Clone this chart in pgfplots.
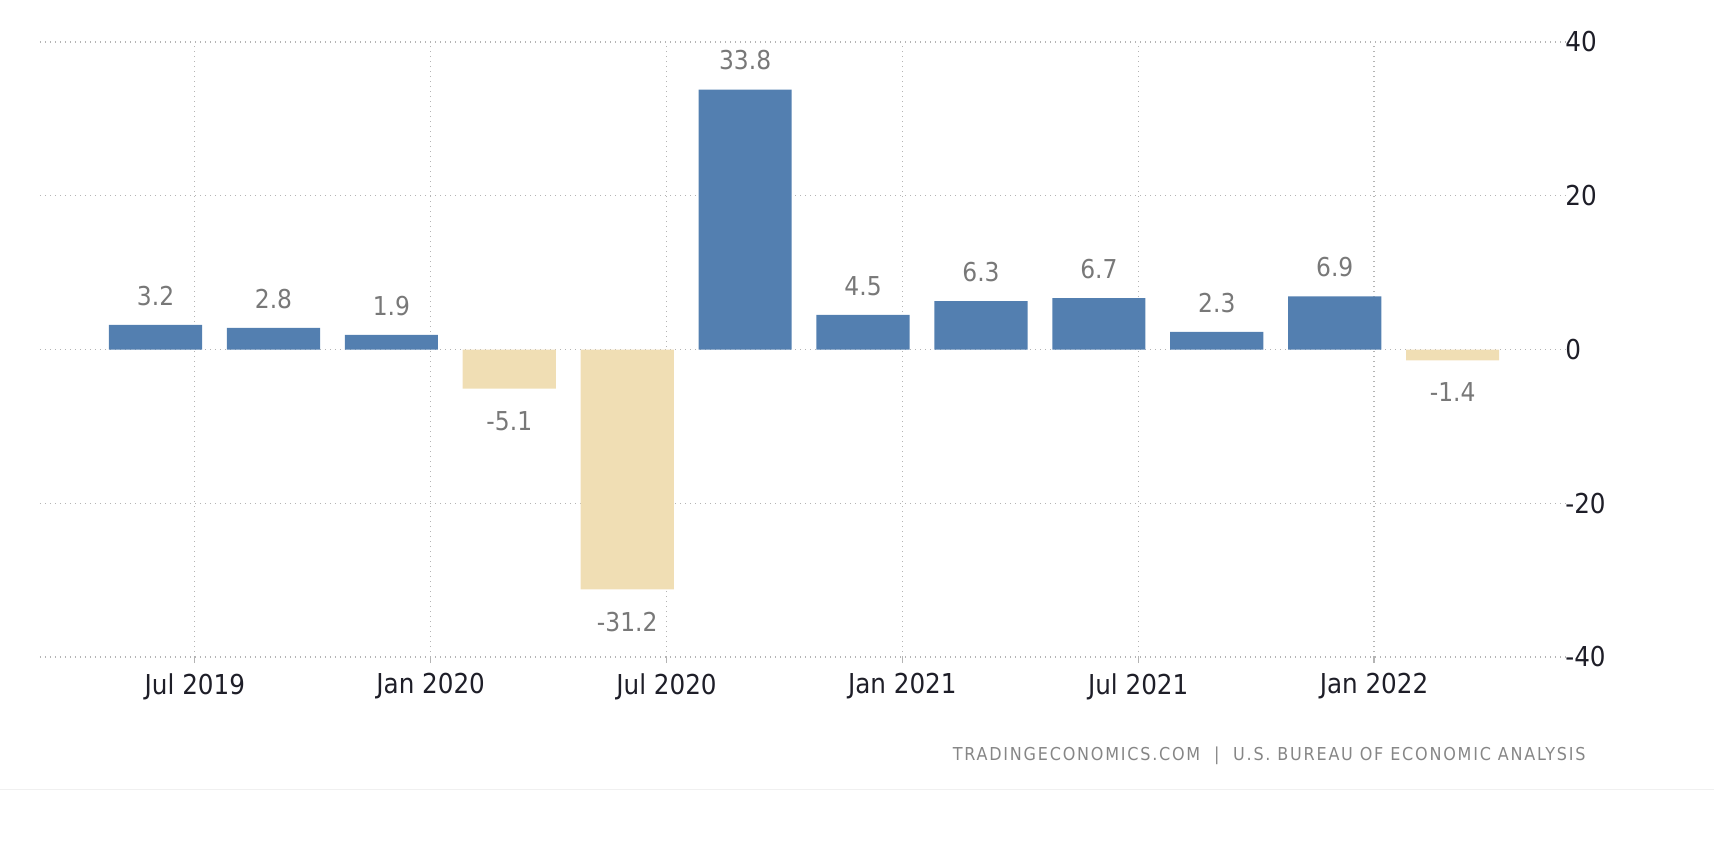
\documentclass[border=0pt]{standalone}
\usepackage{fontspec}
\setmainfont{DejaVu Sans Condensed}
\newfontfamily\footfont[LetterSpace=10]{DejaVu Sans Condensed}
\usepackage{pgfplots}
\pgfplotsset{compat=1.18}

\definecolor{barblue}{RGB}{83,127,176}
\definecolor{barbeige}{RGB}{240,222,180}
\definecolor{labgray}{RGB}{120,120,120}
\definecolor{gridgray}{RGB}{180,180,180}
\definecolor{ticktext}{RGB}{30,30,40}

% quarter-on-quarter growth, x = months after Jul 2019
\pgfplotstableread{
x  y     lab
-1 3.2   3.2
2  2.8   2.8
5  1.9   1.9
14 33.8  33.8
17 4.5   4.5
20 6.3   6.3
23 6.7   6.7
26 2.3   2.3
29 6.9   6.9
}\pos
\pgfplotstableread{
x  y     lab
8  -5.1  -5.1
11 -31.2 -31.2
32 -1.4  -1.4
}\neg

\begin{document}
\begin{tikzpicture}
\useasboundingbox (0,0) rectangle (857pt,-421pt);
\begin{axis}[
    at={(20pt,-328.5pt)}, anchor=south west,
    scale only axis, width=763.5pt, height=307.5pt,
    xmin=-3.94, xmax=34.91,
    ymin=-40, ymax=40,
    axis line style={draw=none},
    xtick={0,6,12,18,24,30},
    xticklabels={Jul 2019,Jan 2020,Jul 2020,Jan 2021,Jul 2021,Jan 2022},
    ytick={-40,-20,0,20,40},
    yticklabels={-40,-20,0,20,40},
    yticklabel pos=right,
    xtick pos=bottom,
    tick align=outside,
    major tick length=3pt,
    xtick style={draw=gridgray, line width=0.6pt},
    ytick style={draw=none},
    xticklabel style={anchor=north, inner sep=0pt, yshift=-5pt, font=\fontsize{13.7}{16}\selectfont, text=ticktext},
    yticklabel style={anchor=west, inner sep=0pt, xshift=-4pt, font=\fontsize{13.7}{16}\selectfont, text=ticktext},
    grid=major,
    major grid style={draw=gridgray, line width=0.6pt, dash pattern=on 0.6pt off 1.9pt},
    clip=false,
  ]
  \addplot[ybar, bar shift=0pt, bar width=2.37, fill=barblue, draw=none,
    nodes near coords, point meta=explicit symbolic,
    every node near coord/.append style={anchor=south, inner sep=0pt, yshift=9.5pt,
      text=labgray, font=\fontsize{13}{15}\selectfont}]
    table[x=x, y=y, meta=lab] {\pos};
  \addplot[ybar, bar shift=0pt, bar width=2.37, fill=barbeige, draw=none,
    nodes near coords, point meta=explicit symbolic,
    every node near coord/.append style={anchor=north, inner sep=0pt, yshift=-11pt,
      text=labgray, font=\fontsize{13}{15}\selectfont}]
    table[x=x, y=y, meta=lab] {\neg};
\end{axis}
\node[anchor=base east, inner sep=0pt, text=labgray!90, font=\footfont\fontsize{8.9}{10}\selectfont]
  at (793pt,-380pt) {TRADINGECONOMICS.COM \ | \ U.S. BUREAU OF ECONOMIC ANALYSIS};
\draw[gray!12, line width=0.5pt] (0,-394.5pt) -- (857pt,-394.5pt);
\end{tikzpicture}
\end{document}
